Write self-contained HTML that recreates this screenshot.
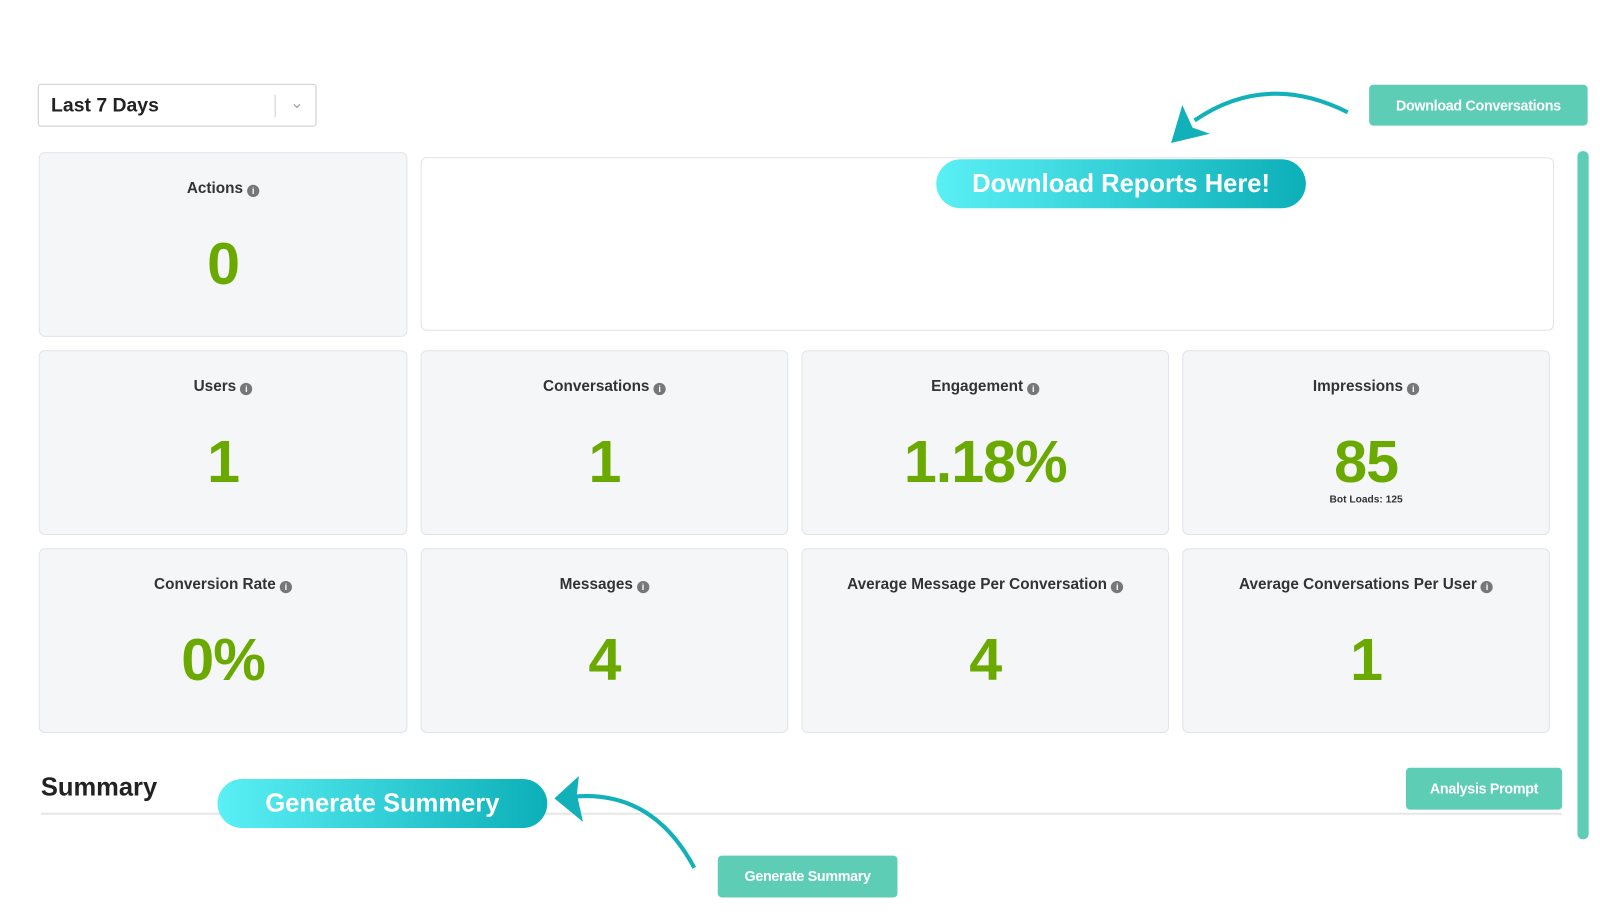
<!DOCTYPE html>
<html><head><style>
body{margin:0;width:1600px;height:900px;background:#fff;font-family:"Liberation Sans",sans-serif;position:relative;overflow:hidden}
#w{position:absolute;left:0;top:0;width:1560px;height:878px;transform:scale(1.021);transform-origin:0 0}
.a{position:absolute}
.card{position:absolute;background:#f5f6f8;border:1px solid #e1e4ea;border-radius:6px;box-sizing:border-box;text-align:center}
.t{position:absolute;left:0;right:0;top:26px;font-size:15px;font-weight:bold;color:#333}
.i{display:inline-block;width:12px;height:12px;border-radius:50%;background:#777;color:#fff;font-size:9px;line-height:12px;vertical-align:-1px;margin-left:4px}
.v{position:absolute;left:0;right:0;top:75px;font-size:58px;font-weight:bold;color:#6aaa00;line-height:68px;letter-spacing:-1px}
.btn{position:absolute;background:#5ecdb5;color:#fff;font-weight:bold;font-size:14px;text-align:center;border-radius:4px;letter-spacing:-0.3px}
.pill{position:absolute;background:linear-gradient(90deg,#5af0f5,#0cafb8);color:#fff;font-weight:bold;border-radius:24px;text-align:center}
</style></head><body><div id="w">
<div class="a" style="left:37px;top:82px;width:273px;height:42px;border:1px solid #ccc;border-radius:3px;box-sizing:border-box">
<span class="a" style="left:12px;top:10px;font-size:19px;font-weight:bold;color:#222">Last 7 Days</span>
<span class="a" style="left:231px;top:10px;width:1px;height:22px;background:#ccc"></span>
<span class="a" style="left:246px;top:8px;color:#aaa;font-size:16px">&#8964;</span>
</div>
<div class="btn" style="left:1341px;top:83px;width:214px;height:40px;line-height:40px">Download Conversations</div>
<div class="a" style="left:1545px;top:148px;width:11px;height:674px;background:#5ecdb5;border-radius:5px"></div>

<div class="card" style="left:38px;top:149px;width:361px;height:181px"><div class="t">Actions<span class="i">i</span></div><div class="v">0</div></div>
<div class="card" style="left:412px;top:154px;width:1110px;height:170px;background:#fff"></div>

<div class="card" style="left:38px;top:343px;width:361px;height:181px"><div class="t">Users<span class="i">i</span></div><div class="v">1</div></div>
<div class="card" style="left:412px;top:343px;width:360px;height:181px"><div class="t">Conversations<span class="i">i</span></div><div class="v">1</div></div>
<div class="card" style="left:785px;top:343px;width:360px;height:181px"><div class="t">Engagement<span class="i">i</span></div><div class="v">1.18%</div></div>
<div class="card" style="left:1158px;top:343px;width:360px;height:181px"><div class="t">Impressions<span class="i">i</span></div><div class="v">85</div><div class="a" style="left:0;right:0;top:140px;font-size:10px;font-weight:bold;color:#333">Bot Loads: 125</div></div>

<div class="card" style="left:38px;top:537px;width:361px;height:181px"><div class="t">Conversion Rate<span class="i">i</span></div><div class="v">0%</div></div>
<div class="card" style="left:412px;top:537px;width:360px;height:181px"><div class="t">Messages<span class="i">i</span></div><div class="v">4</div></div>
<div class="card" style="left:785px;top:537px;width:360px;height:181px"><div class="t">Average Message Per Conversation<span class="i">i</span></div><div class="v">4</div></div>
<div class="card" style="left:1158px;top:537px;width:360px;height:181px"><div class="t">Average Conversations Per User<span class="i">i</span></div><div class="v">1</div></div>

<div class="a" style="left:40px;top:757px;font-size:25px;font-weight:bold;color:#222">Summary</div>
<div class="a" style="left:40px;top:796px;width:1490px;height:2px;background:#e6e6e6"></div>
<div class="btn" style="left:1377px;top:752px;width:153px;height:41px;line-height:41px">Analysis Prompt</div>
<div class="btn" style="left:703px;top:838px;width:176px;height:41px;line-height:41px">Generate Summary</div>

<div class="pill" style="left:917px;top:156px;width:362px;height:48px;line-height:48px;font-size:25px">Download Reports Here!</div>
<div class="pill" style="left:213px;top:763px;width:323px;height:48px;line-height:48px;font-size:25px">Generate Summery</div>

<svg class="a" style="left:0;top:0" width="1600" height="900">
<path d="M1320 110 Q1240 70 1170 118" stroke="#12b1b9" stroke-width="4" fill="none"/>
<polygon points="1147,140 1158,103 1168,125 1185,131" fill="#12b1b9"/>
<path d="M680 850 Q640 775 565 780" stroke="#12b1b9" stroke-width="4" fill="none"/>
<polygon points="543,782 567,760 565,778 571,805" fill="#12b1b9"/>
</svg>
</div></body></html>
